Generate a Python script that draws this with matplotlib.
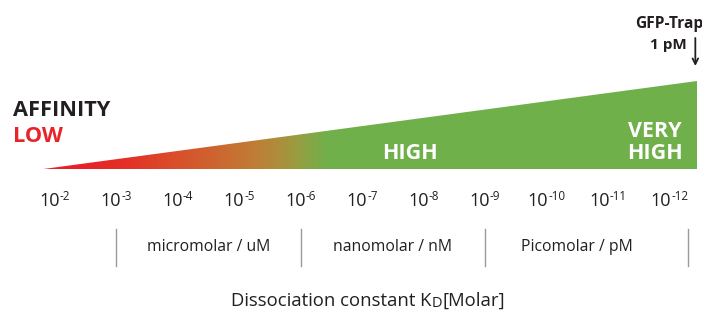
import numpy as np
import matplotlib
matplotlib.use("Agg")
import matplotlib.pyplot as plt
from matplotlib.colors import LinearSegmentedColormap
from matplotlib.patches import Polygon
from matplotlib.transforms import offset_copy

plt.rcParams['font.family'] = ['Open Sans', 'DejaVu Sans']

# ---- data ----
exponents = [-2, -3, -4, -5, -6, -7, -8, -9, -10, -11, -12]
region_bounds = [3, 6, 9, 12]          # -log10 Kd boundaries
region_labels = ["micromolar / uM", "nanomolar / nM", "Picomolar / pM"]
wedge_start, wedge_end = 1.70, 12.45   # -log10 Kd span of the affinity wedge
wedge_height = 88.5                    # relative affinity at the high end
affinity_labels = ["HIGH", "VERY\nHIGH"]
affinity_pos = [7.78, 11.76]
marker_label = "GFP-Trap\n1 pM"

DARK = "#231f20"
RED = "#e8232a"
GREEN = "#70b04b"

fig = plt.figure(figsize=(7.02, 3.11), dpi=100)
ax = fig.add_axes([0, 0, 1, 1])
PX = 61.5                       # pixels per decade
x0 = 7 - 362 / PX
x1 = 7 + 340 / PX
ax.set_xlim(x0, x1)
ax.set_ylim(311, 0)
ax.axis('off')
renderer = fig.canvas.get_renderer()


def composite(parts, x, y, align='center', color=DARK):
    """parts: list of (text, fontsize, dy_pixels_up). Placed on one baseline."""
    objs, widths = [], []
    for s, fs, dy in parts:
        t = ax.text(x, y, s, fontsize=fs, ha='left', va='baseline', color=color)
        w = t.get_window_extent(renderer).width
        objs.append(t)
        widths.append(w)
    total = sum(widths)
    start = -total / 2 if align == 'center' else 0
    cur = start
    for t, w, (s, fs, dy) in zip(objs, widths, parts):
        t.set_transform(offset_copy(ax.transData, fig, x=cur, y=dy, units='dots'))
        cur += w
    return objs


base_y = 169.5
cmap = LinearSegmentedColormap.from_list("aff", [
    (0.00, "#e8202a"),
    (0.06, "#e8202a"),
    (0.13, "#e42e27"),
    (0.20, "#db4b2a"),
    (0.27, "#cd6530"),
    (0.33, "#bf7d36"),
    (0.37, "#ab903c"),
    (0.40, "#92a042"),
    (0.44, GREEN),
    (1.00, GREEN),
])
grad = np.linspace(0, 1, 512).reshape(1, -1)
im = ax.imshow(grad, cmap=cmap, aspect='auto',
               extent=[wedge_start, wedge_end, base_y, base_y - wedge_height],
               interpolation='bilinear', zorder=1)
tri = Polygon([[wedge_start, base_y], [wedge_end, base_y],
               [wedge_end, base_y - wedge_height]], closed=True,
              facecolor='none', edgecolor='none', transform=ax.transData)
ax.add_patch(tri)
im.set_clip_path(tri)
ax.set_xlim(x0, x1)
ax.set_ylim(311, 0)

# tick labels: "10" with raised exponent
for e in exponents:
    composite([("10", 13, 0), ("%d" % e, 8.4, 5.5)], -e, 206)

# region separators and labels
for b in region_bounds[:-1]:
    ax.plot([b, b], [229, 266], color="#9a9a9a", lw=1.0)
ax.plot([region_bounds[-1] + 0.3] * 2, [229, 266], color="#9a9a9a", lw=1.0)
for lab, a, b in zip(region_labels, region_bounds[:-1], region_bounds[1:]):
    ax.text((a + b) / 2, 247, lab, ha='center', va='center',
            fontsize=11.3, color=DARK)

# x label with subscript D
composite([("Dissociation constant K", 13.3, 0), ("D", 10.5, -1.8),
           ("[Molar]", 13.3, 0)], 7.1, 305.5)

# affinity labels
ax.text(x0 + 13 / PX, 111, "AFFINITY", ha='left', va='center',
        fontsize=15.7, fontweight='bold', color=DARK)
ax.text(x0 + 13 / PX, 136, "LOW", ha='left', va='center',
        fontsize=15.7, fontweight='bold', color=RED)
ax.text(affinity_pos[0], 153.5, affinity_labels[0], ha='center', va='center',
        fontsize=15.5, fontweight='bold', color='white')
ax.text(affinity_pos[1], 142.5, affinity_labels[1], ha='center', va='center',
        fontsize=15.5, fontweight='bold', color='white', linespacing=1.1,
        multialignment='center')

# GFP-Trap marker
gfp, pm = marker_label.split("\n")
ax.text(x0 + 635 / PX, 23.5, gfp, ha='left', va='center', fontsize=11.2,
        fontweight='bold', color=DARK)
ax.text(x0 + 687 / PX, 45.5, pm, ha='right', va='center', fontsize=11,
        fontweight='bold', color=DARK)
arrow_x = wedge_end - 0.03
ax.annotate("", xy=(arrow_x, 66), xytext=(arrow_x, 38),
            arrowprops=dict(arrowstyle='->', lw=1.3, color=DARK,
                            mutation_scale=10, shrinkA=0, shrinkB=0))

fig.savefig("out.png", dpi=100)
